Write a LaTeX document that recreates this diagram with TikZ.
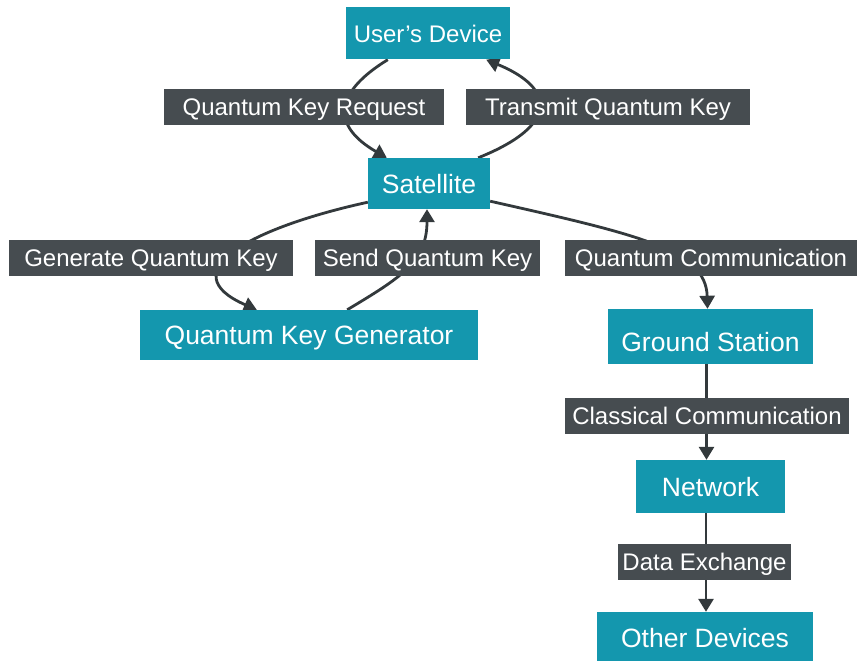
\documentclass[tikz,border=0pt]{standalone}
\usepackage{fontspec}
\setmainfont{Liberation Sans}
\usetikzlibrary{arrows.meta,backgrounds}
\definecolor{nodeteal}{HTML}{1497AE}
\definecolor{labelgrey}{HTML}{464C50}
\definecolor{linegrey}{HTML}{33393C}
\begin{document}
\begin{tikzpicture}[x=1pt,y=-1pt,
  box/.style={fill=nodeteal,text=white,inner sep=0pt,text height=19pt,text depth=0pt,font=\fontsize{26.5}{30}\selectfont},
  tag/.style={fill=labelgrey,text=white,inner sep=0pt,text height=17.2pt,text depth=0pt,minimum height=36pt,font=\fontsize{24}{28}\selectfont},
  link/.style={draw=linegrey,line width=2.8pt},
  arr/.style={link,-{Triangle[length=13pt,width=15pt]}}]
\useasboundingbox (0,0) rectangle (863,661);

% main blocks
\node[box,minimum width=164pt,minimum height=52pt,text height=17.2pt,font=\fontsize{24}{28}\selectfont] (ud) at (428,33.5) {User’s Device};
\node[box,minimum width=122pt,minimum height=51pt] (sat) at (429,183.5) {Satellite};
\node[box,minimum width=338pt,minimum height=50pt] (qkg) at (309,335) {Quantum Key Generator};
\node[box,minimum width=205pt,minimum height=55pt,text height=29pt] (gs) at (710.5,336.5) {Ground Station};
\node[box,minimum width=149pt,minimum height=53pt] (net) at (710.5,486.5) {Network};
\node[box,minimum width=216pt,minimum height=49pt,text height=21pt] (od) at (705,636.5) {Other Devices};

% edge labels
\node[tag,minimum width=280pt] (qkr) at (304,107) {Quantum Key Request};
\node[tag,minimum width=284pt] (tqk) at (608,107) {Transmit Quantum Key};
\node[tag,minimum width=284pt] (gqk) at (151,258) {Generate Quantum Key};
\node[tag,minimum width=225pt] (sqk) at (427.5,258) {Send Quantum Key};
\node[tag,minimum width=292pt] (qc) at (711,258) {Quantum Communication};
\node[tag,minimum width=284pt] (cc) at (707,416) {Classical Communication};
\node[tag,minimum width=173pt] (de) at (704.5,562) {Data Exchange};

% connectors run behind the labels
\begin{scope}[on background layer]
\fill[white] (0,0) rectangle (863,661);
\draw[arr] ([xshift=42pt]ud.south west) .. controls (335,92) and (330,125) .. ([xshift=19pt]sat.north west);
\draw[arr] ([xshift=-12pt]sat.north east) .. controls (560,125) and (555,88) .. ([xshift=-24pt]ud.south east);
\draw[arr] ([yshift=7pt]sat.south west) .. controls (250,228) and (170,272) .. ([xshift=117pt]qkg.north west);
\draw[arr] ([xshift=-131pt]qkg.north east) .. controls (400,278) and (427,262) .. ([xshift=-2pt]sat.south);
\draw[arr] ([yshift=8pt]sat.south east) .. controls (640,235) and (706,250) .. ([xshift=-3pt]gs.north);
\draw[arr] ([xshift=-4pt]gs.south) -- ([xshift=-4pt]net.north);
\draw[arr] ([xshift=-4.5pt]net.south) -- ([xshift=1pt]od.north);
\end{scope}
\end{tikzpicture}
\end{document}
